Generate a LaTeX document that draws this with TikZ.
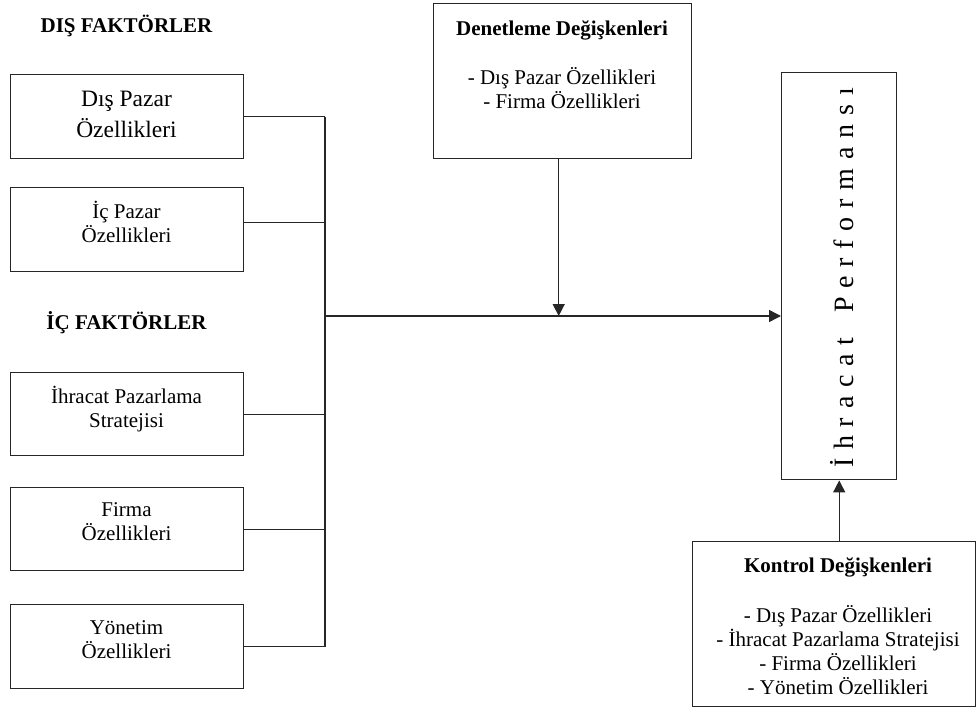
\documentclass[tikz,border=0pt]{standalone}
\usepackage{fontspec}
\setmainfont{Liberation Serif}
\usetikzlibrary{arrows.meta}
\newcommand\lsp{\kern 8.8pt}
\begin{document}
\begin{tikzpicture}[x=1pt,y=-1pt,
  every node/.style={font=\fontsize{21}{24}\selectfont},
  box/.style={draw=black!85, line width=1.4pt, anchor=north west, inner sep=0pt},
  lbl/.style={align=center, anchor=base, inner sep=0pt},
  head/.style={anchor=base, inner sep=0pt, font=\fontsize{21}{24}\selectfont\bfseries},
  conn/.style={draw=black!85, line width=1.4pt},
  arr/.style={conn, -{Triangle[length=12pt,width=12pt]}}]
\useasboundingbox (0,0) rectangle (976,709);

% headings
\node[head] (hdis) at (126.5,33) {DIŞ FAKTÖRLER};
\node[head] (hic) at (126.5,329) {İÇ FAKTÖRLER};

% left boxes
\node[box, minimum width=233pt, minimum height=84pt] (b1) at (10,74) {};
\node[box, minimum width=233pt, minimum height=84pt] (b2) at (10,187) {};
\node[box, minimum width=233pt, minimum height=83pt] (b3) at (10,372) {};
\node[box, minimum width=233pt, minimum height=83pt] (b4) at (10,487) {};
\node[box, minimum width=233pt, minimum height=84pt] (b5) at (10,604) {};

% (base anchor of a multi-line node = baseline of its last line)
\node[lbl, font=\fontsize{23.5}{31}\selectfont] (t1) at (126.5,137) {Dış Pazar\\Özellikleri};
\node[lbl] (t2) at (126.5,242) {İç Pazar\\Özellikleri};
\node[lbl] (t3) at (126.5,427) {İhracat Pazarlama\\Stratejisi};
\node[lbl] (t4) at (126.5,540) {Firma\\Özellikleri};
\node[lbl] (t5) at (126.5,658) {Yönetim\\Özellikleri};

% moderator box
\node[box, minimum width=258pt, minimum height=155pt] (den) at (433,3) {};
\node[lbl] (tden) at (562,108) {\textbf{Denetleme Değişkenleri}\\[25pt]- Dış Pazar Özellikleri\\- Firma Özellikleri};

% performance box
\node[box, minimum width=115pt, minimum height=407pt] (perf) at (781,72) {};
\node[rotate=90, anchor=base, inner sep=0pt, font=\fontsize{28}{30}\selectfont] (tperf) at (853,278)
  {İ\lsp h\lsp r\lsp a\lsp c\lsp a\lsp t\lsp{} \lsp P\lsp e\lsp r\lsp f\lsp o\lsp r\lsp m\lsp a\lsp n\lsp s\lsp ı};

% control box
\node[box, minimum width=283pt, minimum height=165pt] (kon) at (692,541) {};
\node[lbl] (tkon) at (838,694) {\textbf{Kontrol Değişkenleri}\\[26pt]- Dış Pazar Özellikleri\\- İhracat Pazarlama Stratejisi\\- Firma Özellikleri\\- Yönetim Özellikleri};

% bus
\coordinate (bus) at (325,316);
\draw[conn] (b1.east) -- (b1.east -| bus);
\draw[conn] ([yshift=7pt]b2.east) -- ([yshift=7pt]b2.east -| bus);
\draw[conn] (b3.east) -- (b3.east -| bus);
\draw[conn] (b4.east) -- (b4.east -| bus);
\draw[conn] (b5.east) -- (b5.east -| bus);
\draw[conn] (b1.east -| bus) -- (b5.east -| bus);
\draw[arr] (bus) -- (bus -| perf.west);
\draw[arr] ([xshift=-4pt]den.south) -- ([xshift=-4pt]den.south |- bus);
\draw[arr] (perf.south |- kon.north) -- (perf.south);
\end{tikzpicture}
\end{document}
